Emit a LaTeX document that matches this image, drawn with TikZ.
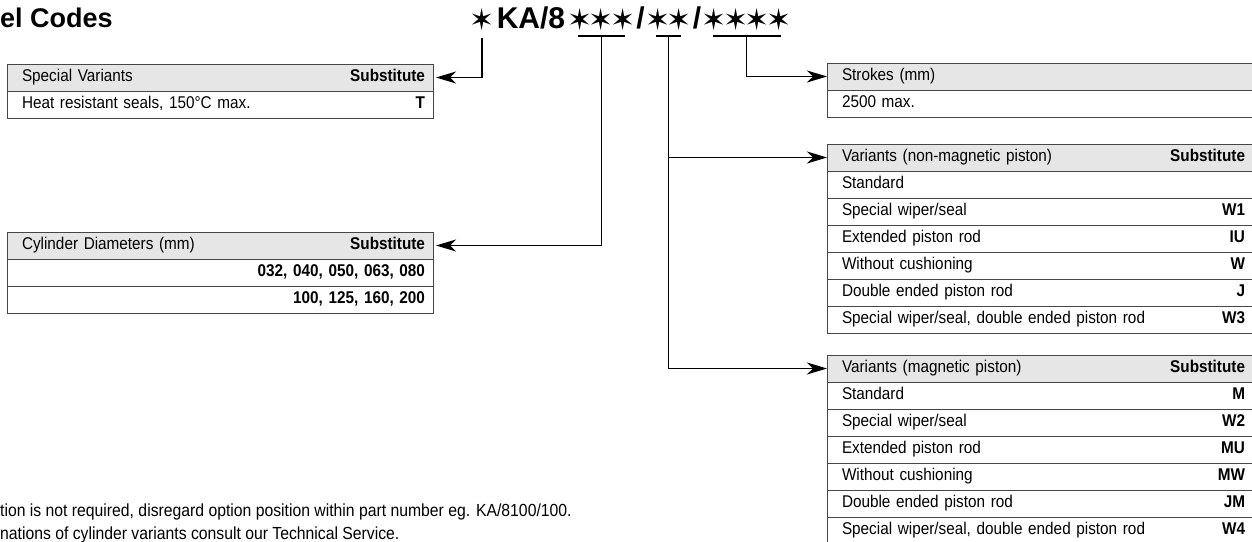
\documentclass[tikz,border=0pt]{standalone}
\usepackage{fontspec}
\setmainfont{Liberation Sans}[FakeStretch=0.9]
\newfontfamily\headfont{Liberation Sans}
\newfontfamily\starfont{DejaVu Sans}
\usetikzlibrary{arrows.meta, positioning}
\definecolor{hdgray}{RGB}{230,230,230}
\definecolor{rulegray}{RGB}{70,70,70}
\newcommand{\cstar}{\makebox[21.5pt]{\raisebox{-2pt}{\starfont\mdseries\fontsize{30}{36}\selectfont ✶}}}
\newcommand{\cslash}{\makebox[13.5pt]{/}}

\begin{document}
\begin{tikzpicture}[x=1pt, y=-1pt,
    tbl/.style={draw=rulegray, line width=0.9pt, minimum height=27pt, text width=410pt, inner xsep=8pt, inner ysep=0pt, outer sep=0pt, text height=12pt, text depth=3.5pt, align=left, font=\fontsize{17}{20}\selectfont, execute at begin node=\hspace*{7pt}},
    hd/.style={tbl, fill=hdgray},
    code/.style={inner sep=0pt, outer sep=0pt, font=\headfont\bfseries\fontsize{30}{36}\selectfont},
    note/.style={anchor=base west, inner sep=0pt, font=\fontsize{17.5}{21}\selectfont},
    ul/.style={line width=1.2pt},
    arr/.style={-{Stealth[length=20pt, width=12pt, inset=6pt]}, line width=1.2pt}
]
    \useasboundingbox (0,0) rectangle (1252,541);
    \clip (0,0) rectangle (1252,541);

    \node[anchor=base west, inner sep=0pt, font=\headfont\bfseries\fontsize{27}{32}\selectfont] (title) at (0,27) {el Codes};

    \node[code, anchor=base] (s0) at (482,28) {\cstar};
    \node[code, base right=0pt of s0] (ka) {\makebox[76.5pt]{KA/8}};
    \node[code, base right=0pt of ka] (g1) {\cstar\cstar\cstar};
    \node[code, base right=0pt of g1] (sl1) {\cslash};
    \node[code, base right=0pt of sl1] (g2) {\cstar\cstar};
    \node[code, base right=0pt of g2] (sl2) {\cslash};
    \node[code, base right=0pt of sl2] (g3) {\cstar\cstar\cstar\cstar};

    \node[hd, anchor=north west] (spvh) at (7,64) {Special Variants\hfill\textbf{Substitute}};
    \node[tbl, below=0pt of spvh] (spv1) {Heat resistant seals, 150°C max.\hfill\textbf{T}};

    \node[hd, anchor=north west] (cylh) at (7,232) {Cylinder Diameters (mm)\hfill\textbf{Substitute}};
    \node[tbl, below=0pt of cylh] (cyl1) {\hfill\textbf{032, 040, 050, 063, 080}};
    \node[tbl, below=0pt of cyl1] (cyl2) {\hfill\textbf{100, 125, 160, 200}};

    \node[hd, anchor=north west] (strh) at (827,63) {Strokes (mm)};
    \node[tbl, below=0pt of strh] (str1) {2500 max.};

    \node[hd, anchor=north west] (nonh) at (827,144) {Variants (non-magnetic piston)\hfill\textbf{Substitute}};
    \node[tbl, below=0pt of nonh] (non1) {Standard};
    \node[tbl, below=0pt of non1] (non2) {Special wiper/seal\hfill\textbf{W1}};
    \node[tbl, below=0pt of non2] (non3) {Extended piston rod\hfill\textbf{IU}};
    \node[tbl, below=0pt of non3] (non4) {Without cushioning\hfill\textbf{W}};
    \node[tbl, below=0pt of non4] (non5) {Double ended piston rod\hfill\textbf{J}};
    \node[tbl, below=0pt of non5] (non6) {Special wiper/seal, double ended piston rod\hfill\textbf{W3}};

    \node[hd, anchor=north west] (magh) at (827,355) {Variants (magnetic piston)\hfill\textbf{Substitute}};
    \node[tbl, below=0pt of magh] (mag1) {Standard\hfill\textbf{M}};
    \node[tbl, below=0pt of mag1] (mag2) {Special wiper/seal\hfill\textbf{W2}};
    \node[tbl, below=0pt of mag2] (mag3) {Extended piston rod\hfill\textbf{MU}};
    \node[tbl, below=0pt of mag3] (mag4) {Without cushioning\hfill\textbf{MW}};
    \node[tbl, below=0pt of mag4] (mag5) {Double ended piston rod\hfill\textbf{JM}};
    \node[tbl, below=0pt of mag5] (mag6) {Special wiper/seal, double ended piston rod\hfill\textbf{W4}};

    \node[note] (note1) at (0,516) {tion is not required, disregard option position within part number eg. KA/8100/100.};
    \node[note] (note2) at (0,539) {nations of cylinder variants consult our Technical Service.};

    \draw[ul] ([xshift=9pt, yshift=-8pt]g1.base west) -- ([xshift=-9pt, yshift=-8pt]g1.base east);
    \draw[ul] ([xshift=9pt, yshift=-8pt]g2.base west) -- ([xshift=-9pt, yshift=-8pt]g2.base east);
    \draw[ul] ([xshift=9pt, yshift=-8pt]g3.base west) -- ([xshift=-9pt, yshift=-8pt]g3.base east);
    \coordinate (c1) at ([yshift=-8pt]g1.base);
    \coordinate (c2) at ([yshift=-8pt]g2.base);
    \coordinate (c3) at ([yshift=-8pt]g3.base);

    \draw[arr, shorten >=3pt] ([yshift=-10pt]s0.base) |- (spvh.east);
    \draw[arr, shorten >=3pt] (c1) |- (cylh.east);
    \draw[arr] (c3) |- (strh.west);
    \draw[arr] (c2 |- nonh.west) -- (nonh.west);
    \draw[arr] (c2) |- (magh.west);
\end{tikzpicture}
\end{document}
